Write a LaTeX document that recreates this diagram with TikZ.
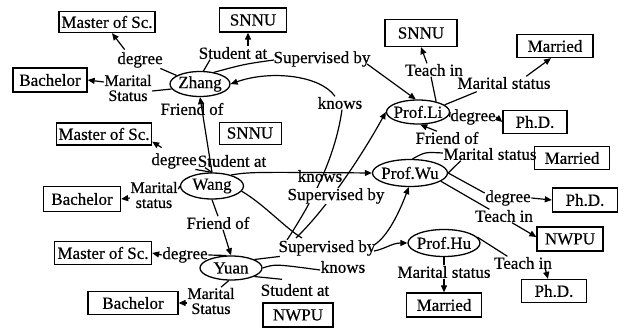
\documentclass[tikz,border=0pt]{standalone}
\usepackage{fontspec}
\setmainfont[FakeBold=0.5]{Liberation Serif}
\usetikzlibrary{shapes.geometric,arrows.meta,calc}
\begin{document}
\begin{tikzpicture}[x=1pt,y=-1pt,
  every node/.style={font=\fontsize{17}{14}\selectfont},
  ell/.style={draw, ellipse, inner sep=0pt, line width=1.3pt},
  box/.style={draw, rectangle, inner sep=0pt, line width=1.3pt},
  lbl/.style={inner sep=0.5pt, align=center},
  lbl2/.style={inner sep=0.5pt, align=center, font=\fontsize{16}{15}\selectfont},
  wl/.style={lbl, fill=white},
  sz/.style 2 args={minimum width=#1pt, minimum height=#2pt},
  e/.style={line width=1.2pt},
  ea/.style={line width=1.2pt, -{Triangle[length=7pt,width=6pt]}}]
\useasboundingbox (0,0) rectangle (627,334);
% ellipses
\node[ell,sz={60}{25}] (zhang) at (200,84) {\makebox[0pt]{Zhang}};
\node[ell,sz={63}{26}] (wang) at (212,186) {\makebox[0pt]{Wang}};
\node[ell,sz={62}{24}] (yuan) at (231,268) {\makebox[0pt]{Yuan}};
\node[ell,sz={63}{24}] (li) at (418,112) {\makebox[0pt]{Prof.Li}};
\node[ell,sz={75}{27}] (wu) at (410,173) {\makebox[0pt]{Prof.Wu}};
\node[ell,sz={72}{27}] (hu) at (444,243) {\makebox[0pt]{Prof.Hu}};
% boxes
\node[box,sz={96}{21}] (msc1) at (107,22) {\makebox[0pt]{Master of Sc.}};
\node[box,sz={67}{24}] (snnu1) at (253,20) {\makebox[0pt]{SNNU}};
\node[box,sz={74}{24}] (bach1) at (50,80) {\makebox[0pt]{Bachelor}};
\node[box,sz={95}{22}] (msc2) at (104,134) {\makebox[0pt]{Master of Sc.}};
\node[box,sz={62}{22},line width=0.9pt] (snnu2) at (250,133) {\makebox[0pt]{SNNU}};
\node[box,sz={77}{25}] (bach2) at (82,199) {\makebox[0pt]{Bachelor}};
\node[box,sz={97}{23}] (msc3) at (103,253) {\makebox[0pt]{Master of Sc.}};
\node[box,sz={90}{23}] (bach3) at (133,303) {\makebox[0pt]{Bachelor}};
\node[box,sz={70}{24}] (nwpu1) at (298,315) {\makebox[0pt]{NWPU}};
\node[box,sz={72}{27}] (snnu3) at (421,33) {\makebox[0pt]{SNNU}};
\node[box,sz={76}{23}] (married1) at (555,46) {\makebox[0pt]{Married}};
\node[box,sz={64}{23}] (phd1) at (535,122) {\makebox[0pt]{Ph.D.}};
\node[box,sz={75}{23}] (married2) at (572,158) {\makebox[0pt]{Married}};
\node[box,sz={65}{24}] (phd2) at (585,200) {\makebox[0pt]{Ph.D.}};
\node[box,sz={66}{24}] (nwpu2) at (570,239) {\makebox[0pt]{NWPU}};
\node[box,sz={65}{23}] (phd3) at (554,291) {\makebox[0pt]{Ph.D.}};
\node[box,sz={75}{24}] (married3) at (444,305) {\makebox[0pt]{Married}};
% labels
\node[lbl] (ldega) at (140,60) {degree};
\node[lbl2] (lmsa) at (128,88) {Marital\\Status};
\node[lbl] (lsta) at (233,53) {Student at};
\node[lbl] (lsupa) at (322,59) {Supervised by};
\node[lbl] (lkna) at (340,103) {knows};
\node[lbl] (lfra) at (192,109) {Friend of};
\node[lbl] (ldegb) at (174,161) {degree};
\node[lbl] (lstb) at (232,161) {Student at};
\node[lbl2] (lmsb) at (154,195) {Marital\\status};
\node[lbl] (lfrb) at (218,223) {Friend of};
\node[lbl] (ldegc) at (185,255) {degree};
\node[lbl2] (lmsc) at (211,301) {Marital\\Status};
\node[lbl] (lstc) at (295,290) {Student at};
\node[lbl] (lknb) at (320,176) {knows};
\node[lbl] (lknc) at (343,267) {knows};
\node[lbl] (ltia) at (434,70) {Teach in};
\node[lbl] (lmsd) at (504,83) {Marital status};
\node[lbl] (ldegd) at (473,117) {degree};
\node[lbl] (lfrc) at (447,138) {Friend of};
\node[lbl] (lmse) at (490,154) {Marital status};
\node[lbl] (ldege) at (508,198) {degree};
\node[lbl] (ltib) at (504,216) {Teach in};
\node[lbl] (ltic) at (523,263) {Teach in};
\node[lbl] (lmsf) at (444,272) {Marital status};
\coordinate (a0) at (287,240);
\coordinate (b0) at (296,238);
\coordinate (c0) at (302,238);
% Zhang edges
\draw[e] (zhang.160) -- ($(ldega.south east)+(-3,0)$);
\draw[ea] ($(ldega.north west)+(8,-2)$) -- ($(msc1.south)+(5,0)$);
\draw[e] (zhang.190) -- ($(lmsa.east)+(0,3)$);
\draw[ea] ($(lmsa.west)+(0,-6)$) -- (bach1.east);
\draw[e] (zhang.75) -- ($(lsta.south west)+(12,0)$);
\draw[ea] ($(lsta.north)+(15,0)$) -- ($(snnu1.south)+(-5,0)$);
\draw[e] (zhang.40) .. controls (245,64) .. ($(lsupa.west)+(1,1)$);
\draw[ea] ($(lsupa.east)+(-4,5)$) -- (li.100);
\draw[ea] ($(lkna.north)+(-5,0)$) .. controls (320,75) and (270,70) .. (zhang.east);
\draw[ea] (wang.north) -- (zhang.south);
% Wang edges
\draw[e] (wang.north) -- ($(ldegb.south east)+(-2,0)$);
\draw[e] (wang.north) -- ($(lstb.south west)+(8,0)$);
\draw[ea] ($(ldegb.north west)+(11,-5)$) -- ($(msc2.south east)+(0,-4)$);
\draw[e] (wang.west) -- ($(lmsb.north east)+(0,8)$);
\draw[ea] ($(lmsb.west)+(0,3)$) -- (bach2.east);
\draw[e] (wang.south) -- (lfrb.north);
\draw[ea] ($(lfrb.south)+(5,0)$) -- (yuan.north);
\draw[ea] (wang.30) .. controls (250,172) .. (wu.west);
\draw[e] (wang.-10) .. controls (265,205) and (285,228) .. (c0);
% Yuan edges
\draw[e] (ldegc.east) -- (yuan.110);
\draw[ea] (ldegc.west) -- (msc3.east);
\draw[e] (yuan.260) -- ($(lmsc.north)+(10,0)$);
\draw[ea] ($(lmsc.west)+(0,2)$) -- (bach3.east);
\draw[e] (yuan.340) -- ($(lstc.north)+(-13,-4)$);
\draw[e] (yuan.east) .. controls (275,264) .. ($(lknc.west)+(0,3)$);
\draw[e] (a0) .. controls (310,205) and (335,160) .. ($(lkna.south)+(2,0)$);
\draw[ea] (b0) .. controls (330,205) and (365,150) .. (li.west);
\node[wl] (lsupb) at (336,196) {Supervised by};
\node[wl] (lsupc) at (327,248) {Supervised by};
\draw[e] (yuan.20) -- ($(lsupc.south west)+(2,0)$);
\draw[ea] ($(lsupc.east)+(-2,3)$) .. controls (385,249) and (392,243) .. (hu.west);
\draw[ea] ($(lsupc.east)+(-2,-3)$) .. controls (390,235) and (402,205) .. (wu.265);
% Li edges
\draw[e] ($(ltia.south)+(-3,0)$) -- (li.30);
\draw[ea] ($(ltia.north)+(-7,0)$) -- (snnu3.south);
\draw[e] (li.15) -- ($(lmsd.south west)+(20,2)$);
\draw[ea] ($(lmsd.north east)+(-25,0)$) -- ($(married1.south)+(-4,0)$);
\draw[e] (li.east) -- (ldegd.west);
\draw[ea] (ldegd.east) -- (phd1.west);
\draw[ea] ($(lfrc.north west)+(22,0)$) -- (li.280);
% Wu edges
\draw[e] (wu.80) .. controls (425,152) .. ($(lmse.west)+(0,-1)$);
\draw[e] (wu.east) -- ($(lmse.south west)+(18,0)$);
\draw[e] (wu.east) -- ($(ldege.west)+(0,-5)$);
\draw[ea] (ldege.east) -- (phd2.west);
\draw[e] (wu.-15) -- ($(ltib.north west)+(15,0)$);
\draw[ea] ($(ltib.south)+(8,0)$) -- ($(nwpu2.west)+(0,-2)$);
% Hu edges
\draw[e] (hu.10) -- ($(ltic.north west)+(14,0)$);
\draw[ea] ($(ltic.south)+(22,-2)$) -- ($(phd3.north)+(-6,0)$);
\draw[e] (hu.south) -- (lmsf.north);
\draw[ea] (lmsf.south) -- (married3.north);
\end{tikzpicture}
\end{document}
